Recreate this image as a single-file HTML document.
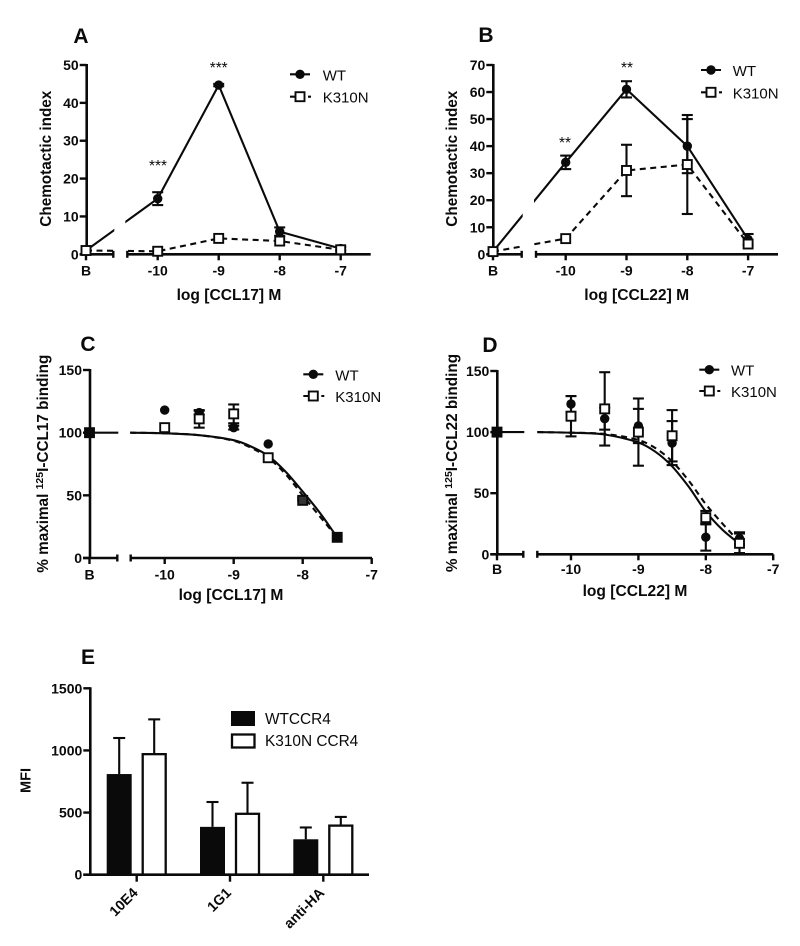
<!DOCTYPE html>
<html lang="en">
<head>
<meta charset="utf-8">
<title>CCR4 WT and K310N chemotaxis, binding and expression</title>
<style>
html,body{margin:0;padding:0;background:#fff;}
svg{display:block;filter:blur(0.3px);}
text{font-family:"Liberation Sans",sans-serif;fill:#0a0a0a;}
</style>
</head>
<body>
<svg id="fig" xmlns="http://www.w3.org/2000/svg" width="800" height="946" viewBox="0 0 800 946"></svg>
<script>
/* ---------- Panel A data ---------- */
const chemoCategories = ['B', -10, -9, -8, -7];
const aTicks = [0, 10, 20, 30, 40, 50];
const aWT = [1, 14.7, 44.7, 6, 1.5];
const aWTErr = [0, 1.7, 0.3, 1.1, 0.5];
const aK = [1, 0.8, 4.2, 3.5, 1.2];
const aKErr = [0, 0, 0, 0, 0];

/* ---------- Panel B data ---------- */
const bTicks = [0, 10, 20, 30, 40, 50, 60, 70];
const bWT = [1, 34, 61, 40, 5.5];
const bWTErr = [0, 2.5, 3, 10, 2];
const bK = [1, 5.8, 31, 33.2, 3.8];
const bKErr = [0, 0, 9.5, 18.3, 0];

/* ---------- Panels C and D data ---------- */
const bindCategories = ['B', -10, -9.5, -9, -8.5, -8, -7.5];
const bindAxisTicks = [-10, -9, -8, -7];
const bindTicks = [0, 50, 100, 150];
const curveLogs = [-10.5, -10, -9.5, -9, -8.75, -8.5, -8.25, -8, -7.75, -7.5];

const cWT = [100, 118, 116, 104, 91, 47, 16.5];
const cWTErr = [0, 0, 1.5, 1.5, 0, 1, 0];
const cK = [100, 104, 111, 115, 80, 46, 16.5];
const cKErr = [0, 0, 7, 7.5, 0, 0, 0];
const cCurveWT = [100, 99.5, 98, 94, 89, 81.5, 69, 53, 36, 16.5];
const cCurveK = [100, 99.5, 98, 93.5, 88, 80, 67, 50, 33, 16.5];

const dWT = [100, 123, 111, 105, 91, 14, 13];
const dWTErr = [0, 6.5, 9, 14, 18, 11, 5];
const dK = [100, 113, 119, 100, 97, 30, 9];
const dKErr = [0, 16.5, 30, 27.5, 21, 5.5, 8];
const dCurveWT = [100, 99.5, 98, 91.5, 84, 72, 55, 35, 20, 8.5];
const dCurveK = [100, 99.5, 98.5, 93.5, 87, 76, 60, 41, 25, 10];

/* ---------- Panel E data ---------- */
const eCategories = ['10E4', '1G1', 'anti-HA'];
const eTicks = [0, 500, 1000, 1500];
const eWT = [810, 385, 285];
const eWTErr = [290, 200, 95];
const eK = [970, 490, 395];
const eKErr = [280, 250, 70];

const NS = 'http://www.w3.org/2000/svg';
const fig = document.getElementById('fig');

function mk(tag, name, interact, attrs, parent, content) {
  const el = document.createElementNS(NS, tag);
  
  
  for (const k in attrs) el.setAttribute(k, attrs[k]);
  if (content !== undefined) el.textContent = content;
  (parent || fig).appendChild(el);
  return el;
}
function ln(name, g, x1, y1, x2, y2, w, dash) {
  const a = {x1: x1, y1: y1, x2: x2, y2: y2, stroke: '#0a0a0a', 'stroke-width': w || 2.1};
  if (dash) a['stroke-dasharray'] = dash;
  return mk('line', name, 'false', a, g);
}
function txt(name, g, x, y, s, size, weight, anchor, extra) {
  const a = Object.assign({x: x, y: y, 'font-size': size, 'font-weight': weight || 'normal', 'text-anchor': anchor || 'middle'}, extra || {});
  return mk('text', name, 'false', a, g, s);
}
function poly(name, g, pts, dash, w) {
  const a = {points: pts.map(p => p[0].toFixed(1) + ',' + p[1].toFixed(1)).join(' '), fill: 'none', stroke: '#0a0a0a', 'stroke-width': w || 2.1, 'stroke-linejoin': 'round'};
  if (dash) a['stroke-dasharray'] = dash;
  return mk('polyline', name, 'false', a, g);
}
function smooth(name, g, pts, dash) {
  let d = 'M' + pts[0][0].toFixed(1) + ' ' + pts[0][1].toFixed(1);
  for (let i = 0; i < pts.length - 1; i++) {
    const p0 = pts[Math.max(i - 1, 0)], p1 = pts[i], p2 = pts[i + 1], p3 = pts[Math.min(i + 2, pts.length - 1)];
    const h = (p2[0] - p1[0]) / 3;
    const s1 = (p2[1] - p0[1]) / (p2[0] - p0[0]);
    const s2 = (p3[1] - p1[1]) / (p3[0] - p1[0]);
    d += 'C' + (p1[0] + h).toFixed(1) + ' ' + (p1[1] + s1 * h).toFixed(1) + ' ' + (p2[0] - h).toFixed(1) + ' ' + (p2[1] - s2 * h).toFixed(1) + ' ' + p2[0].toFixed(1) + ' ' + p2[1].toFixed(1);
  }
  const a = {d: d, fill: 'none', stroke: '#0a0a0a', 'stroke-width': 2.1};
  if (dash) a['stroke-dasharray'] = dash;
  return mk('path', name, 'false', a, g);
}
function circle(name, g, x, y) {
  return mk('circle', name, 'false', {cx: x, cy: y, r: 4.7, fill: '#0a0a0a'}, g);
}
function square(name, g, x, y, fill) {
  return mk('rect', name, 'false', {x: x - 4.5, y: y - 4.5, width: 9, height: 9, fill: fill || '#fff', stroke: '#0a0a0a', 'stroke-width': 1.9}, g);
}
function errBar(name, g, x, top, bottom) {
  ln(name, g, x, top, x, bottom, 2.1);
  ln(name + '-cap', g, x - 5.5, top, x + 5.5, top, 2.1);
  ln(name + '-cap', g, x - 5.5, bottom, x + 5.5, bottom, 2.1);
}
function legend(g, cfg) {
  ln('legend-line-wt', g, cfg.x - 10, cfg.y1, cfg.x + 10, cfg.y1, 2.1);
  circle('legend-marker-wt', g, cfg.x, cfg.y1);
  txt('legend-label-wt', g, cfg.tx, cfg.y1 + 6, 'WT', 15, 'normal', 'start');
  ln('legend-line-k310n', g, cfg.x - 10, cfg.y2, cfg.x + 11, cfg.y2, 2.1, '5 4');
  square('legend-marker-k310n', g, cfg.x, cfg.y2);
  txt('legend-label-k310n', g, cfg.tx, cfg.y2 + 6, 'K310N', 15, 'normal', 'start');
}

function drawAxes(g, p, ticks, xTickVals) {
  const yS = p.yS;
  ln('y-axis', g, p.ax, yS(ticks[ticks.length - 1]) - 1, p.ax, yS(0) + 1, 2.6);
  ticks.forEach(t => {
    ln('y-tick', g, p.ax - 7, yS(t), p.ax, yS(t), 2.4);
    txt('y-tick-label', g, p.ax - 8, yS(t) + 5, String(t), 14, 'bold', 'end');
  });
  ln('x-axis-left-segment', g, p.ax - 7, yS(0), p.breakL, yS(0), 2.6);
  ln('x-axis-break-cap-left', g, p.breakL, yS(0) - 3.5, p.breakL, yS(0) + 3.5, 2.4);
  ln('x-axis-right-segment', g, p.breakR, yS(0), p.axEnd, yS(0), 2.6);
  ln('x-axis-break-cap-right', g, p.breakR, yS(0) - 3.5, p.breakR, yS(0) + 3.5, 2.4);
  ln('x-tick-b', g, p.bx, yS(0), p.bx, yS(0) + 6, 2.4);
  txt('x-tick-label-b', g, p.bx + (p.bLabelDx || 0), p.labelY, 'B', 14, 'bold');
  xTickVals.forEach(v => {
    ln('x-tick', g, p.xS(v), yS(0), p.xS(v), yS(0) + 6, 2.4);
    txt('x-tick-label', g, p.xS(v), p.labelY, String(v), 14, 'bold');
  });
  txt('x-axis-title', g, p.titleX, p.titleY, p.xTitle, 15.6, 'bold');
}
function scales(p, domTop) {
  p.yS = v => p.y0 + (p.yTop - p.y0) * v / domTop;
  p.xS = c => c === 'B' ? p.bx : p.x10 + (c + 10) * p.step;
}
function panelLetter(g, s, x, y) {
  txt('panel-letter-' + s.toLowerCase(), g, x, y, s, 21, 'bold');
}
function gapMask(g, p, top) {
  mk('rect', 'axis-break-gap', 'false', {x: p.breakL + 1, y: top, width: p.breakR - p.breakL - 3, height: p.yS(0) - top - 1.5, fill: '#fff'}, g);
}

/* Chemotaxis panels A, B */
function chemoPanel(p) {
  const g = mk('g', p.name, 'false', {});
  scales(p, p.top);
  panelLetter(g, p.letter, p.lx, p.ly);
  const pts = a => chemoCategories.map((c, i) => [p.xS(c), p.yS(a[i])]);
  poly('series-line-wt', g, pts(p.wt));
  poly('series-line-k310n', g, pts(p.k), '6 4.5');
  gapMask(g, p, p.yS(p.top * 0.5));
  drawAxes(g, p, p.ticks, [-10, -9, -8, -7]);
  chemoCategories.forEach((c, i) => {
    const x = p.xS(c);
    if (p.wtErr[i]) errBar('error-bar-wt', g, x, p.yS(p.wt[i] + p.wtErr[i]), p.yS(p.wt[i] - p.wtErr[i]));
    if (p.kErr[i]) errBar('error-bar-k310n', g, x, p.yS(p.k[i] + p.kErr[i]), p.yS(p.k[i] - p.kErr[i]));
    circle('point-wt', g, x, p.yS(p.wt[i]));
  });
  chemoCategories.forEach((c, i) => square('point-k310n', g, p.xS(c), p.yS(p.k[i])));
  txt('y-axis-title', g, 0, 0, 'Chemotactic index', 15.3, 'bold', 'middle', {transform: 'translate(' + p.ytx + ',' + p.yty + ') rotate(-90)'});
  p.stars.forEach(s => txt('significance-stars', g, s[0], s[1], s[2], 15.4, 'normal'));
  legend(g, p.legend);
}

chemoPanel({name: 'panel-a', letter: 'A', lx: 81, ly: 43, top: 50, ticks: aTicks, wt: aWT, wtErr: aWTErr, k: aK, kErr: aKErr,
  ax: 86.7, y0: 254.3, yTop: 65, bx: 86, x10: 157.7, step: 61, breakL: 113.3, breakR: 127.3, axEnd: 370.7,
  labelY: 275.5, titleX: 229, titleY: 300, xTitle: 'log [CCL17] M', ytx: 51, yty: 158.7,
  stars: [[218.7, 73, '***'], [158, 171, '***']], legend: {x: 300, y1: 74.3, y2: 96.7, tx: 322.7}});

chemoPanel({name: 'panel-b', letter: 'B', lx: 486, ly: 42, top: 70, ticks: bTicks, wt: bWT, wtErr: bWTErr, k: bK, kErr: bKErr,
  ax: 493.3, y0: 254.3, yTop: 65, bx: 493, x10: 565.7, step: 60.8, breakL: 521.7, breakR: 536, axEnd: 778,
  labelY: 275.5, titleX: 636.7, titleY: 300, xTitle: 'log [CCL22] M', ytx: 457, yty: 158.7,
  stars: [[627, 73, '**'], [565, 148, '**']], legend: {x: 711, y1: 70, y2: 92.3, tx: 732.7}});

/* Binding panels C, D */
function bindPanel(p) {
  const g = mk('g', p.name, 'false', {});
  scales(p, 150);
  panelLetter(g, p.letter, p.lx, p.ly);
  ln('baseline-b-segment', g, p.bx, p.yS(100), p.breakL + 1, p.yS(100), 2.1);
  smooth('fit-curve-wt', g, curveLogs.map((c, i) => [p.xS(c), p.yS(p.curveWT[i])]));
  smooth('fit-curve-k310n', g, curveLogs.map((c, i) => [p.xS(c), p.yS(p.curveK[i])]), '6 4.5');
  drawAxes(g, p, bindTicks, bindAxisTicks);
  bindCategories.forEach((c, i) => {
    const x = p.xS(c);
    if (p.wtErr[i]) errBar('error-bar-wt', g, x, p.yS(p.wt[i] + p.wtErr[i]), p.yS(p.wt[i] - p.wtErr[i]));
    if (p.kErr[i]) errBar('error-bar-k310n', g, x, p.yS(p.k[i] + p.kErr[i]), p.yS(p.k[i] - p.kErr[i]));
    circle('point-wt', g, x, p.yS(p.wt[i]));
  });
  bindCategories.forEach((c, i) => {
    const tie = p.wt[i] === p.k[i];
    square('point-k310n', g, p.xS(c), p.yS(p.k[i]), tie ? '#0a0a0a' : (Math.abs(p.wt[i] - p.k[i]) < 2 ? '#333' : '#fff'));
  });
  const t = mk('text', 'y-axis-title', 'false', {transform: 'translate(' + p.ytx + ',' + p.yty + ') rotate(-90)', 'font-size': 15.3, 'font-weight': 'bold', 'text-anchor': 'middle'}, g);
  mk('tspan', 'y-axis-title-prefix', 'false', {}, t, '% maximal ');
  mk('tspan', 'y-axis-title-superscript', 'false', {'font-size': 10.5, dy: -5}, t, '125');
  mk('tspan', 'y-axis-title-suffix', 'false', {dy: 5}, t, p.yTitle);
  legend(g, p.legend);
}

bindPanel({name: 'panel-c', letter: 'C', lx: 88, ly: 351, wt: cWT, wtErr: cWTErr, k: cK, kErr: cKErr, curveWT: cCurveWT, curveK: cCurveK,
  ax: 90, y0: 558, yTop: 370, bx: 89.5, x10: 164.7, step: 69, breakL: 117.3, breakR: 130.7, axEnd: 372,
  labelY: 579.5, titleX: 231, titleY: 600, xTitle: 'log [CCL17] M', ytx: 48, yty: 463.7, yTitle: 'I-CCL17 binding',
  legend: {x: 313.3, y1: 374.3, y2: 396, tx: 335.3}});

bindPanel({name: 'panel-d', letter: 'D', lx: 490, ly: 352, wt: dWT, wtErr: dWTErr, k: dK, kErr: dKErr, curveWT: dCurveWT, curveK: dCurveK,
  ax: 497.3, y0: 554.3, yTop: 371, bx: 497, x10: 571, step: 67.4, breakL: 523.3, breakR: 537.3, axEnd: 773.3,
  labelY: 574, titleX: 635, titleY: 596, xTitle: 'log [CCL22] M', ytx: 457, yty: 463, yTitle: 'I-CCL22 binding',
  legend: {x: 709.3, y1: 369.7, y2: 391, tx: 731}});

/* Bar panel E */
(function () {
  const g = mk('g', 'panel-e', 'false', {});
  panelLetter(g, 'E', 88, 664);
  const y0 = 874.7, yTop = 688.3, ax = 90.3;
  const yS = v => y0 + (yTop - y0) * v / 1500;
  const center = i => 136.7 + i * 93.3;
  eCategories.forEach((c, i) => {
    const cx = center(i);
    ln('error-bar-wt', g, cx - 17.5, yS(eWT[i]), cx - 17.5, yS(eWT[i] + eWTErr[i]), 2.1);
    ln('error-cap-wt', g, cx - 23.5, yS(eWT[i] + eWTErr[i]), cx - 11.5, yS(eWT[i] + eWTErr[i]), 2.1);
    ln('error-bar-k310n', g, cx + 17.5, yS(eK[i]), cx + 17.5, yS(eK[i] + eKErr[i]), 2.1);
    ln('error-cap-k310n', g, cx + 11.5, yS(eK[i] + eKErr[i]), cx + 23.5, yS(eK[i] + eKErr[i]), 2.1);
    mk('rect', 'bar-wt-' + c.toLowerCase(), 'false', {x: cx - 30, y: yS(eWT[i]), width: 25, height: y0 - yS(eWT[i]), fill: '#0a0a0a'}, g);
    mk('rect', 'bar-k310n-' + c.toLowerCase(), 'false', {x: cx + 6, y: yS(eK[i]), width: 23, height: y0 - yS(eK[i]), fill: '#fff', stroke: '#0a0a0a', 'stroke-width': 2.3}, g);
    ln('x-tick', g, cx, y0, cx, y0 + 7, 2.4);
    const lx = cx + 2, ly = y0 + 19;
    txt('x-tick-label', g, 0, 0, c, 14.2, 'bold', 'end', {transform: 'translate(' + lx + ',' + ly + ') rotate(-45)'});
  });
  ln('y-axis', g, ax, yS(1500) - 1, ax, y0 + 1, 2.6);
  ln('x-axis', g, ax - 7, y0, 369, y0, 2.6);
  eTicks.forEach(t => {
    ln('y-tick', g, ax - 7, yS(t), ax, yS(t), 2.4);
    txt('y-tick-label', g, ax - 8, yS(t) + 5, String(t), 14, 'bold', 'end');
  });
  txt('y-axis-title', g, 0, 0, 'MFI', 14.5, 'bold', 'middle', {transform: 'translate(30.5,780.5) rotate(-90)'});
  mk('rect', 'legend-swatch-wtccr4', 'false', {x: 231, y: 711, width: 24, height: 15, fill: '#0a0a0a'}, g);
  txt('legend-label-wtccr4', g, 265, 724, 'WTCCR4', 15.4, 'normal', 'start');
  mk('rect', 'legend-swatch-k310n-ccr4', 'false', {x: 232, y: 734.5, width: 22.5, height: 13, fill: '#fff', stroke: '#0a0a0a', 'stroke-width': 2.3}, g);
  txt('legend-label-k310n-ccr4', g, 265, 746, 'K310N CCR4', 15.4, 'normal', 'start');
})();
</script>
</body>
</html>
